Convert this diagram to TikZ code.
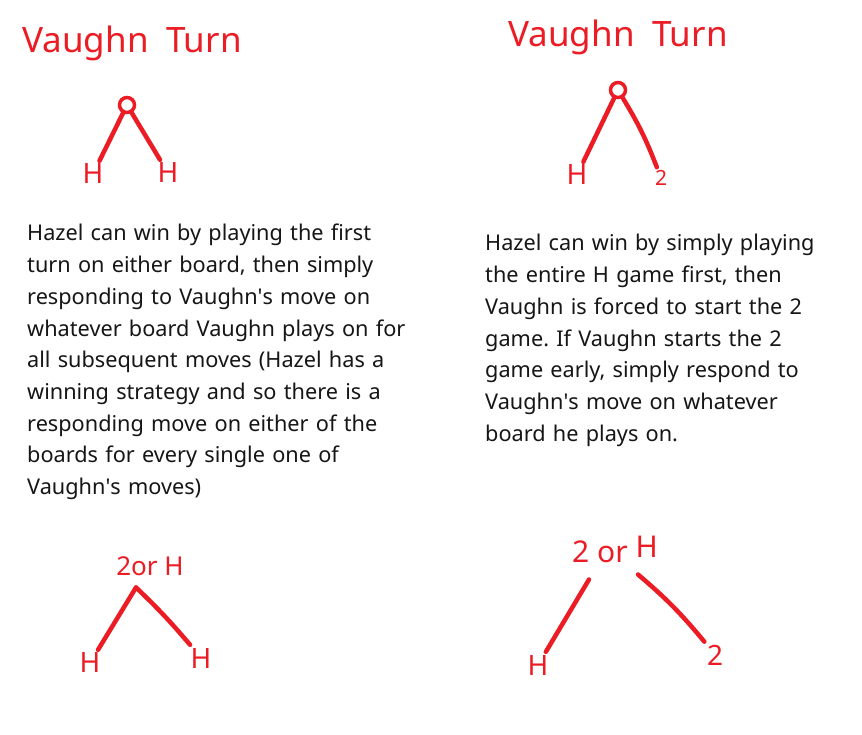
\documentclass[tikz,border=0pt]{standalone}
\usepackage{fontspec}
\setmainfont{Noto Sans}
\usetikzlibrary{positioning}
\definecolor{InkRed}{RGB}{236,28,36}
\definecolor{TextGray}{RGB}{22,22,22}
\tikzset{
  title/.style={text=InkRed,font=\fontsize{35}{35}\selectfont,anchor=base,inner sep=0pt},
  leaf/.style={text=InkRed,font=\fontsize{28}{28}\selectfont,inner sep=3pt},
  root/.style={circle,draw=InkRed,line width=3.5pt,minimum size=15pt,inner sep=0pt},
  choice/.style={text=InkRed,font=\fontsize{26}{26}\selectfont,anchor=base,inner sep=0pt},
  branch/.style={InkRed,line width=4.5pt,line cap=round},
  note/.style={anchor=base west,inner sep=0pt,text width=420pt,align=left,
    font=\fontsize{21.7}{31.7}\selectfont\frenchspacing,text=TextGray}
}
\newcommand{\qs}{\textquotesingle}
\begin{document}
\begin{tikzpicture}[x=1pt,y=-1pt]
  \useasboundingbox[fill=white] (0,0) rectangle (862,735);

  \node[title] (t1) at (132,53) {Vaughn\enspace Turn};
  \node[root] (r1) at (127,105) {};
  \node[leaf] (a1) at (93,174) {H};
  \node[leaf] (b1) at (168,173) {H};
  \draw[branch] (r1) -- (a1);
  \draw[branch] (r1) -- (b1);

  \node[title] (t2) at (618,47) {Vaughn\enspace Turn};
  \node[root] (r2) at (618,90) {};
  \node[leaf] (a2) at (577,175) {H};
  \node[leaf,font=\fontsize{21}{21}\selectfont] (b2) at (661,178) {2};
  \draw[branch] (r2) -- (a2);
  \draw[branch] (r2) to[bend left=5] (b2);

  \node[note] (p1) at (27,241) {Hazel can win by playing the first\\
    turn on either board, then simply\\
    responding to Vaughn\qs s move on\\
    whatever board Vaughn plays on for\\
    all subsequent moves (Hazel has a\\
    winning strategy and so there is a\\
    responding move on either of the\\
    boards for every single one of\\
    Vaughn\qs s moves)};
  \node[note] (p2) at (485,251) {Hazel can win by simply playing\\
    the entire H game first, then\\
    Vaughn is forced to start the 2\\
    game. If Vaughn starts the 2\\
    game early, simply respond to\\
    Vaughn\qs s move on whatever\\
    board he plays on.};

  \node[choice] (r3) at (150,575) {2or H};
  \node[leaf] (a3) at (90,663) {H};
  \node[leaf] (b3) at (201,658) {H};
  \draw[branch] ([shift={(-14,12)}]r3.south) -- (a3);
  \draw[branch] ([shift={(-14,12)}]r3.south) to[bend left=3] (b3);

  \node[choice,font=\fontsize{30}{30}\selectfont] (r4) at (615,562) {2 or \raisebox{5pt}{H}};
  \node[leaf] (a4) at (538,665) {H};
  \node[leaf] (b4) at (715,655) {2};
  \draw[branch] ([shift={(-26,17)}]r4.south) -- (a4);
  \draw[branch] ([shift={(23,12)}]r4.south) to[bend left=5] (b4);
\end{tikzpicture}
\end{document}
